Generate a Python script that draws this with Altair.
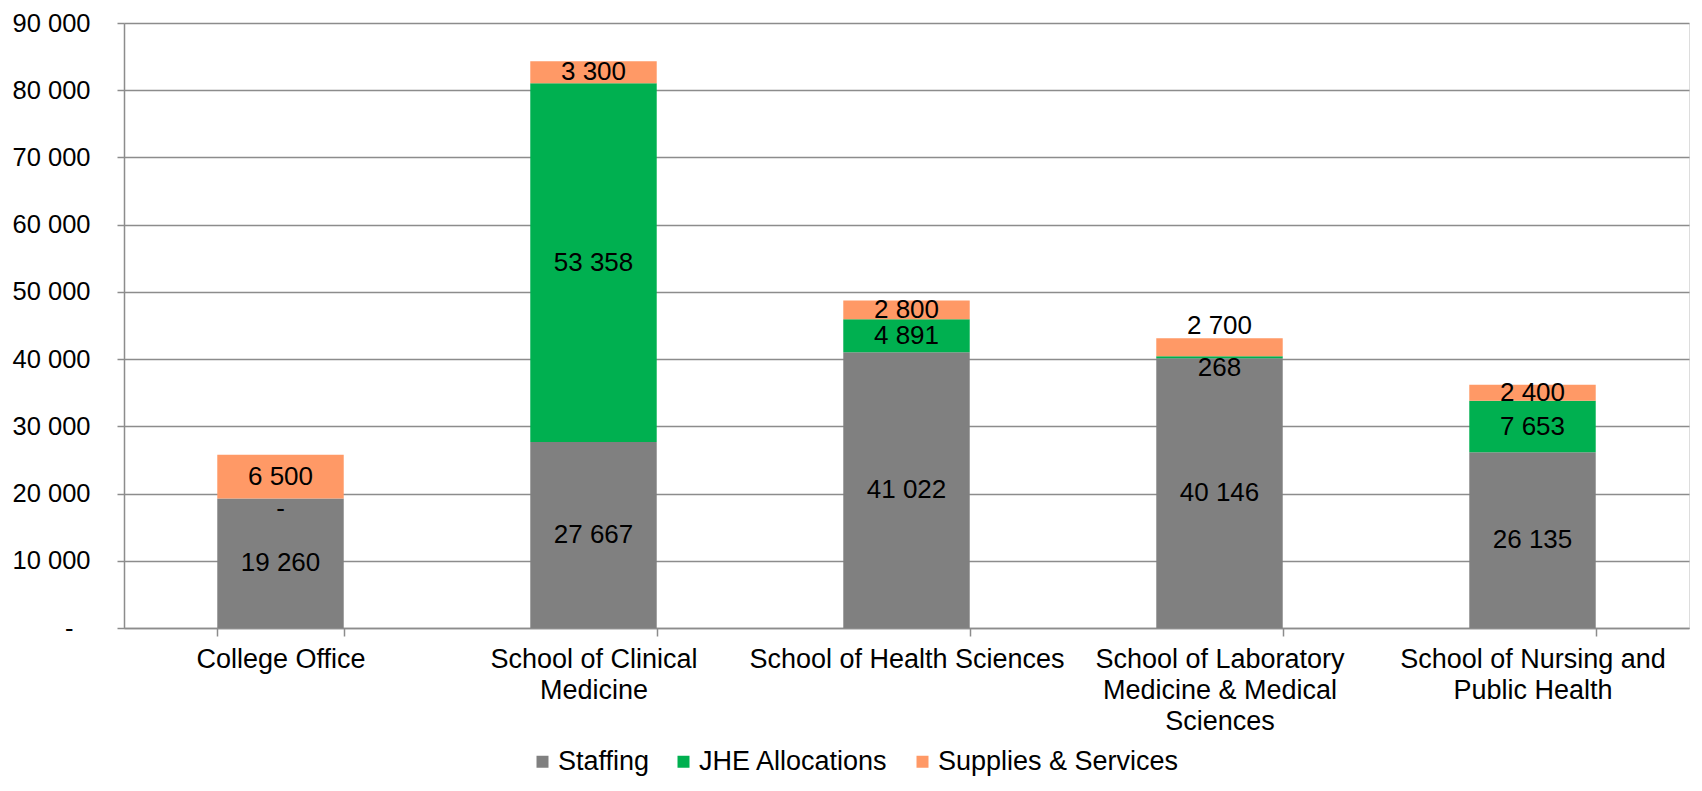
import altair as alt
import pandas as pd

FONT = "Liberation Sans"
FS = 27

categories = [
    "College Office",
    "School of Clinical\nMedicine",
    "School of Health Sciences",
    "School of Laboratory\nMedicine & Medical\nSciences",
    "School of Nursing and\nPublic Health",
]
series = ["Staffing", "JHE Allocations", "Supplies & Services"]
staffing = [19260, 27667, 41022, 40146, 26135]
jhe = [0, 53358, 4891, 268, 7653]
supplies = [6500, 3300, 2800, 2700, 2400]
colors = ["#808080", "#00B050", "#FF9966"]
y_ticks = [0, 10000, 20000, 30000, 40000, 50000, 60000, 70000, 80000, 90000]

rows = []
for i, c in enumerate(categories):
    base = 0
    prev_tiny = False
    for j, (s, vals) in enumerate(zip(series, [staffing, jhe, supplies])):
        v = vals[i]
        mid = base + v / 2
        # keep labels of very thin segments readable: the tiny one sits just
        # below its segment, a small one above it moves over the bar's top
        if v < 1000:
            mid = base - 1500
            tiny = True
        else:
            if prev_tiny and v < 3000:
                mid = base + v + 1800
            tiny = False
        rows.append(dict(
            category=c, series=s, order=j, lo=base, hi=base + v, mid=mid,
            label="-" if v == 0 else f"{v:,}".replace(",", " "),
        ))
        prev_tiny = tiny and v > 0
        base += v
df = pd.DataFrame(rows)

GRID = "#8c8c8c"

x_enc = alt.X(
    "category:N", sort=categories, title=None,
    scale=alt.Scale(paddingInner=0.596, paddingOuter=0.298),
    axis=alt.Axis(
        labelExpr="split(datum.label, '\\n')", labelAngle=0, tickBand="extent",
        tickSize=8, tickColor=GRID, tickWidth=1.5, domainColor=GRID, domainWidth=1.5,
        labelFontSize=FS, labelLineHeight=31, labelPadding=10, labelColor="black",
        labelFont=FONT, labelBaseline="top", labelLimit=0,
    ),
)

y_enc = alt.Y(
    "lo:Q", title=None,
    scale=alt.Scale(domain=[0, 90000], nice=False),
    axis=alt.Axis(
        values=y_ticks,
        labelExpr="datum.value == 0 ? '-' : replace(format(datum.value, ','), ',', ' ')",
        grid=True, gridColor=GRID, gridWidth=1.5,
        tickSize=7, tickColor=GRID, tickWidth=1.5, domainColor=GRID, domainWidth=1.5,
        labelFontSize=25.5, labelColor="black", labelFont=FONT,
        labelPadding={"condition": {"test": "datum.value == 0", "value": 44}, "value": 27},
        labelLimit=0,
    ),
)

bars = alt.Chart(df).mark_bar().encode(
    x=x_enc,
    y=y_enc,
    y2="hi:Q",
    color=alt.Color(
        "series:N", sort=series,
        scale=alt.Scale(domain=series, range=colors),
        legend=alt.Legend(
            title=None, orient="none", direction="horizontal",
            legendX=405, legendY=725,
            symbolType="square", symbolSize=144, symbolStrokeWidth=0,
            labelFontSize=FS, labelFont=FONT, labelColor="black",
            labelOffset=2, columnPadding=20, labelLimit=0,
        ),
    ),
    order="order:Q",
)

texts = alt.Chart(df).mark_text(fontSize=26, font=FONT, color="black", baseline="middle").encode(
    x=alt.X("category:N", sort=categories),
    y=alt.Y("mid:Q"),
    text="label:N",
)

chart = alt.layer(bars, texts).properties(
    width=1565, height=605,
    autosize=alt.AutoSizeParams(type="none"),
    padding={"left": 116, "top": 15, "right": 1, "bottom": 152},
).configure_view(stroke=None).configure(font=FONT)

chart.save("out.html", embed_options={"renderer": "svg", "actions": False})
